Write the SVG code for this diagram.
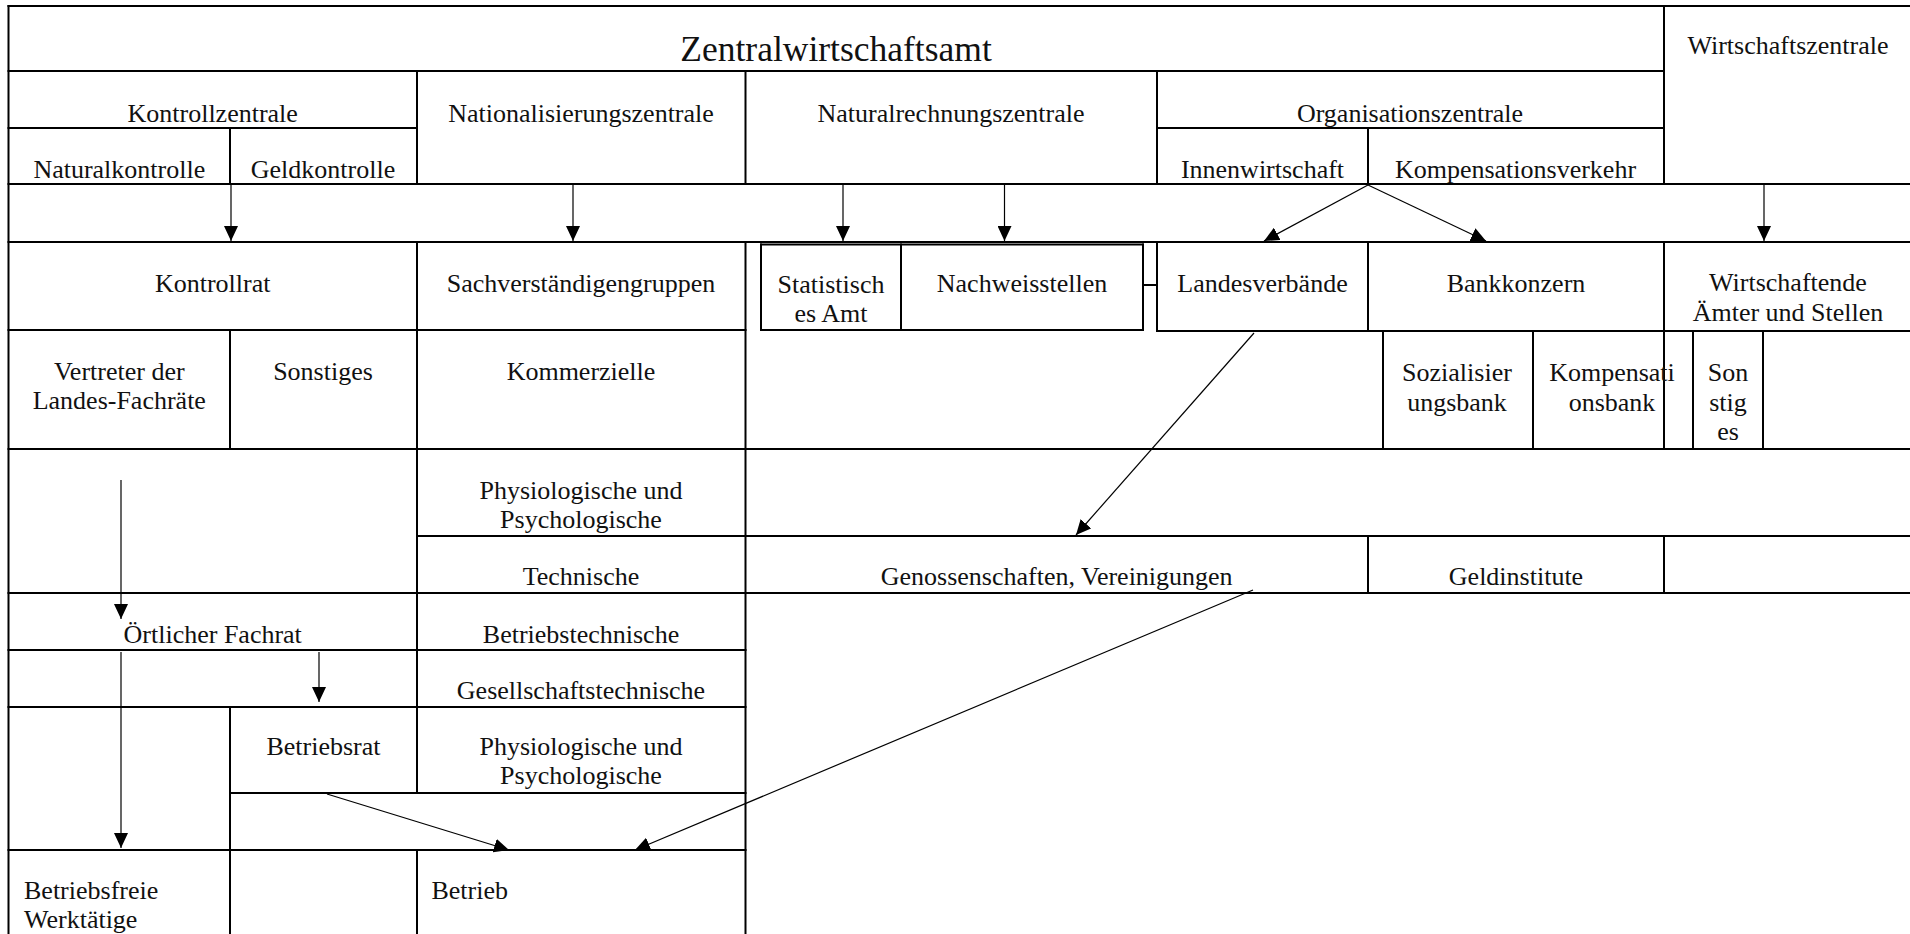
<svg xmlns="http://www.w3.org/2000/svg" width="1910" height="934" viewBox="0 0 1910 934">
<style>
  .g { fill: none; stroke: #000; stroke-width: 2; stroke-linecap: square; }
  .c { fill: none; stroke: #000; stroke-width: 1.2; marker-end: url(#ah); }
  text { font-family: "Liberation Serif", "Times New Roman", serif; font-size: 26px; fill: #111; text-anchor: middle; }
  .title { font-size: 35.5px; }
  .l { text-anchor: start; }
</style>
<defs>
  <marker id="ah" markerWidth="15" markerHeight="14" refX="15" refY="7" orient="auto" markerUnits="userSpaceOnUse">
    <path d="M0,0 L15,7 L0,14 Z" fill="#000"/>
  </marker>
</defs>
<rect width="1910" height="934" fill="#fff"/>
<g id="grid" class="g">
  <path d="M8.5,6 H1910 M8.5,71 H1664 M8.5,128 H417 M1157,128 H1664 M8.5,184 H1910 M8.5,242 H1910 M761,244.5 H1143 M8.5,330 H745.5 M761,330 H1143 M1157,331 H1910 M8.5,449 H1910 M417,536 H1910 M8.5,593 H1910 M8.5,650 H745.5 M8.5,707 H745.5 M230,793 H745.5 M8.5,850 H745.5 M1143,285 H1157"/>
  <path d="M8.5,6 V934 M230,128 V184 M230,330 V449 M230,707 V934 M417,71 V184 M417,242 V793 M417,850 V934 M745.5,71 V184 M745.5,242 V934 M761,244.5 V330 M901,244.5 V330 M1143,244.5 V330 M1157,71 V184 M1157,242 V331 M1368,128 V184 M1368,242 V331 M1368,536 V593 M1383,331 V449 M1533,331 V449 M1664,6 V184 M1664,242 V449 M1664,536 V593 M1693,331 V449 M1763,331 V449"/>
</g>
<g id="n-zentralwirtschaftsamt"><text class="title" x="836" y="61">Zentralwirtschaftsamt</text></g>
<g id="n-wirtschaftszentrale"><text x="1788" y="54">Wirtschaftszentrale</text></g>
<g id="n-kontrollzentrale"><text x="212.7" y="121.5">Kontrollzentrale</text></g>
<g id="n-nationalisierungszentrale"><text x="581" y="121.5">Nationalisierungszentrale</text></g>
<g id="n-naturalrechnungszentrale"><text x="951" y="121.5">Naturalrechnungszentrale</text></g>
<g id="n-organisationszentrale"><text x="1410" y="121.5">Organisationszentrale</text></g>
<g id="n-naturalkontrolle"><text x="119.3" y="178.3">Naturalkontrolle</text></g>
<g id="n-geldkontrolle"><text x="323" y="178.3">Geldkontrolle</text></g>
<g id="n-innenwirtschaft"><text x="1262.5" y="178.3">Innenwirtschaft</text></g>
<g id="n-kompensationsverkehr"><text x="1515.5" y="178.3">Kompensationsverkehr</text></g>
<g id="n-kontrollrat"><text x="212.7" y="291.7">Kontrollrat</text></g>
<g id="n-sachverstaendigengruppen"><text x="581" y="291.7">Sachverständigengruppen</text></g>
<g id="n-statistisches-amt"><text x="831" y="292.5">Statistisch</text><text x="831" y="321.5">es Amt</text></g>
<g id="n-nachweisstellen"><text x="1022" y="292">Nachweisstellen</text></g>
<g id="n-landesverbaende"><text x="1262.5" y="291.7">Landesverbände</text></g>
<g id="n-bankkonzern"><text x="1516" y="291.7">Bankkonzern</text></g>
<g id="n-wirtschaftende"><text x="1788" y="291">Wirtschaftende</text><text x="1788" y="321">Ämter und Stellen</text></g>
<g id="n-vertreter"><text x="119.3" y="380">Vertreter der</text><text x="119.3" y="409">Landes-Fachräte</text></g>
<g id="n-sonstiges1"><text x="323" y="380">Sonstiges</text></g>
<g id="n-kommerzielle"><text x="581" y="380">Kommerzielle</text></g>
<g id="n-sozialisierungsbank"><text x="1457" y="381">Sozialisier</text><text x="1457" y="411">ungsbank</text></g>
<g id="n-kompensationsbank"><text x="1612" y="381">Kompensati</text><text x="1612" y="411">onsbank</text></g>
<g id="n-sonstiges2"><text x="1728" y="381">Son</text><text x="1728" y="411">stig</text><text x="1728" y="440">es</text></g>
<g id="n-physio1"><text x="581" y="499.3">Physiologische und</text><text x="581" y="528.3">Psychologische</text></g>
<g id="n-technische"><text x="581" y="585">Technische</text></g>
<g id="n-genossenschaften"><text x="1056.7" y="585">Genossenschaften, Vereinigungen</text></g>
<g id="n-geldinstitute"><text x="1516" y="585">Geldinstitute</text></g>
<g id="n-oertlicher-fachrat"><text x="212.7" y="642.7">Örtlicher Fachrat</text></g>
<g id="n-betriebstechnische"><text x="581" y="642.7">Betriebstechnische</text></g>
<g id="n-gesellschaftstechnische"><text x="581" y="699.3">Gesellschaftstechnische</text></g>
<g id="n-betriebsrat"><text x="323.5" y="755">Betriebsrat</text></g>
<g id="n-physio2"><text x="581" y="755">Physiologische und</text><text x="581" y="784.3">Psychologische</text></g>
<g id="n-betriebsfreie"><text class="l" x="24" y="899.3">Betriebsfreie</text><text class="l" x="24" y="928.3">Werktätige</text></g>
<g id="n-betrieb"><text class="l" x="431.4" y="899.3">Betrieb</text></g>
<g id="connectors">
  <path class="c" d="M231,185 V241"/>
  <path class="c" d="M573,185 V241"/>
  <path class="c" d="M843,185 V241"/>
  <path class="c" d="M1004.5,185 V241"/>
  <path class="c" d="M1368,185 L1264,241"/>
  <path class="c" d="M1368,185 L1486,241"/>
  <path class="c" d="M1764,185 V241"/>
  <path class="c" d="M1254,333 L1076,535"/>
  <path class="c" d="M121,480 V619"/>
  <path class="c" d="M319,652 V702"/>
  <path class="c" d="M121,652 V848"/>
  <path class="c" d="M327,794 L509,850"/>
  <path class="c" d="M1253,590 L635,850"/>
</g>
</svg>
